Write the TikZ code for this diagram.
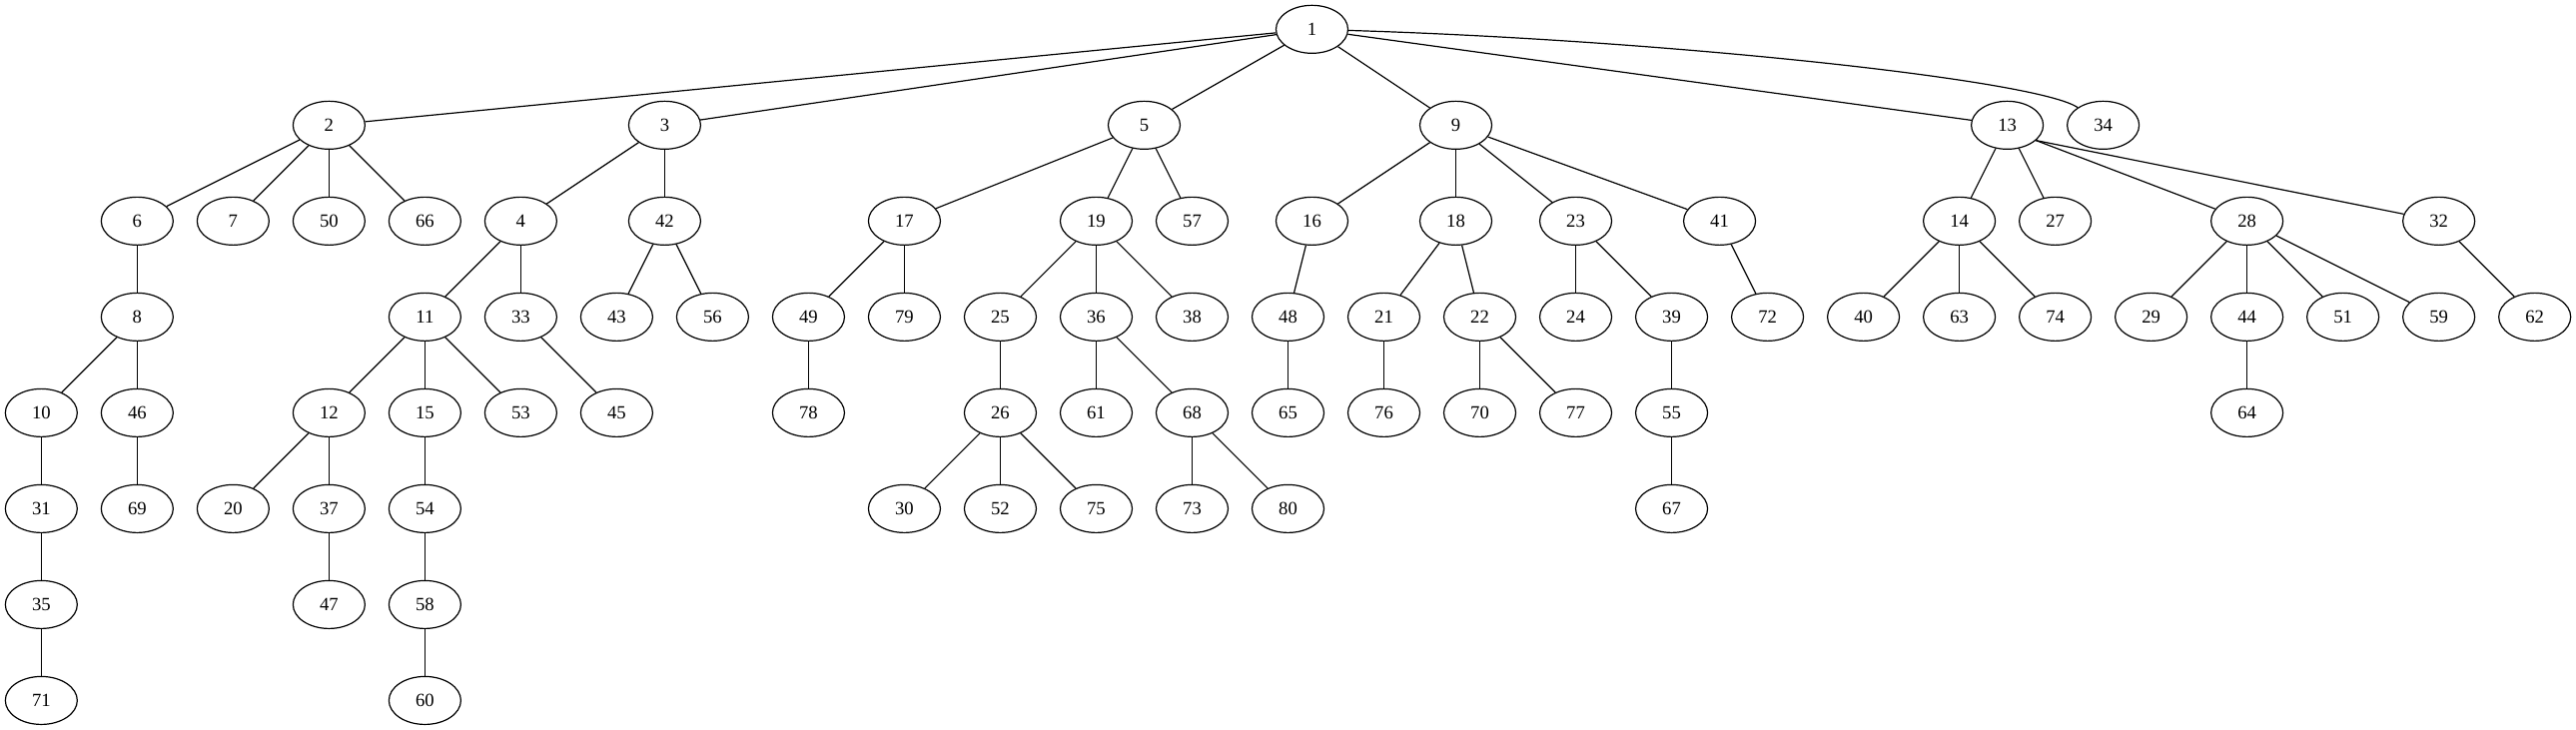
\documentclass[tikz,border=0pt]{standalone}
\usepackage{fontspec}
\setmainfont{Liberation Serif}
\usetikzlibrary{shapes.geometric}
\tikzset{
  vtx/.style={draw, ellipse, minimum width=54pt, minimum height=36pt, inner sep=0pt, line width=0.9pt, font=\fontsize{14}{16}\selectfont},
  edge/.style={line width=0.9pt}
}
\begin{document}
\begin{tikzpicture}[x=1pt,y=1pt]
\useasboundingbox (0,0) rectangle (1934,-548);
\foreach \n/\s/\r in {
  1/13.25/1,
  2/3/2, 3/6.5/2, 5/11.5/2, 9/14.75/2, 13/20.5/2, 34/21.5/2,
  6/1/3, 7/2/3, 50/3/3, 66/4/3, 4/5/3, 42/6.5/3, 17/9/3, 19/11/3, 57/12/3,
  16/13.25/3, 18/14.75/3, 23/16/3, 41/17.5/3, 14/20/3, 27/21/3, 28/23/3, 32/25/3,
  8/1/4, 11/4/4, 33/5/4, 43/6/4, 56/7/4, 49/8/4, 79/9/4, 25/10/4, 36/11/4, 38/12/4,
  48/13/4, 21/14/4, 22/15/4, 24/16/4, 39/17/4, 72/18/4, 40/19/4, 63/20/4, 74/21/4,
  29/22/4, 44/23/4, 51/24/4, 59/25/4, 62/26/4,
  10/0/5, 46/1/5, 12/3/5, 15/4/5, 53/5/5, 45/6/5, 78/8/5, 26/10/5, 61/11/5, 68/12/5,
  65/13/5, 76/14/5, 70/15/5, 77/16/5, 55/17/5, 64/23/5,
  31/0/6, 69/1/6, 20/2/6, 37/3/6, 54/4/6, 30/9/6, 52/10/6, 75/11/6, 73/12/6, 80/13/6, 67/17/6,
  35/0/7, 47/3/7, 58/4/7,
  71/0/8, 60/4/8}
  \node[vtx] (n\n) at ({31+72*\s},{-22-72*(\r-1)}) {\n};
\foreach \a/\b in {
  1/2, 1/3, 1/5, 1/9, 1/13,
  2/6, 2/7, 2/50, 2/66,
  3/4, 3/42, 4/11, 4/33, 42/43, 42/56,
  5/17, 5/19, 5/57, 17/49, 17/79, 19/25, 19/36, 19/38,
  9/16, 9/18, 9/23, 9/41, 16/48, 18/21, 18/22, 23/24, 23/39, 41/72,
  13/14, 13/27, 14/40, 14/63, 14/74,
  28/29, 28/44, 28/51, 28/59, 32/62,
  6/8, 8/10, 8/46, 10/31, 31/35, 35/71, 46/69,
  11/12, 11/15, 11/53, 12/20, 12/37, 37/47, 15/54, 54/58, 58/60, 33/45,
  49/78, 25/26, 26/30, 26/52, 26/75, 36/61, 36/68, 68/73, 68/80,
  48/65, 21/76, 22/70, 22/77, 39/55, 55/67, 44/64}
  \draw[edge] (n\a) -- (n\b);
\draw[edge] (n13.-28) -- (n28);
\draw[edge] (n13.-28) -- (n32);
\draw[edge] (n1) .. controls (1250,-30) and (1530,-60) .. (n34);
\end{tikzpicture}
\end{document}
